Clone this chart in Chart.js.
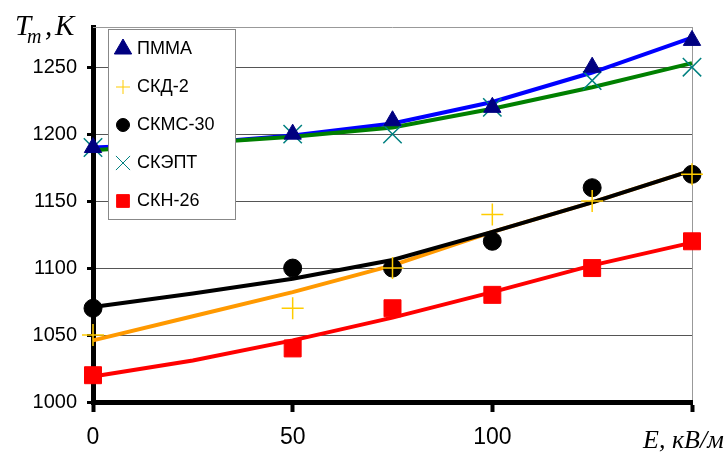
<!DOCTYPE html>
<html>
<head>
<meta charset="utf-8">
<script src="https://cdn.jsdelivr.net/npm/chart.js@4.4.1/dist/chart.umd.min.js"></script>
<style>
  html, body { margin: 0; padding: 0; background: #fff; }
  #wrap { width: 728px; height: 454px; position: relative; }
</style>
</head>
<body>
<div id="wrap"><canvas id="chart"></canvas></div>
<script>
// Measured points
const xValues = [0, 50, 75, 100, 125, 150];
const pmma = [1190, 1200, 1210, 1220, 1250, 1270];
const skd2 = [1050, 1070, 1100, 1140, 1150, 1170];
const skms30 = [1070, 1100, 1100, 1120, 1160, 1170];
const skept = [1190, 1200, 1200, 1220, 1240, 1250];
const skn26 = [1020, 1040, 1070, 1080, 1100, 1120];

// Fitted curves
const fitX = [0, 25, 50, 75, 100, 125, 150];
const pmmaFit = [1190, 1193, 1199, 1208, 1224, 1246, 1272];
const skeptFit = [1188, 1193, 1198, 1205, 1219, 1235, 1253];
const skms30Fit = [1071, 1081, 1092, 1106, 1127, 1149, 1173];
const skd2Fit = [1046, 1064, 1082, 1102, 1127, 1149, 1173];
const skn26Fit = [1019, 1031, 1046, 1063, 1082, 1102, 1119];

const yTicks = [1000, 1050, 1100, 1150, 1200, 1250];
const xTicks = [0, 50, 100, 150];
const seriesNames = ['ПММА', 'СКД-2', 'СКМС-30', 'СКЭПТ', 'СКН-26'];

const toXY = (xs, ys) => xs.map((x, i) => ({ x: x, y: ys[i] }));

function fitLine(data, color, order) {
    return {
        type: 'line',
        data: toXY(fitX, data),
        borderColor: color,
        borderWidth: 4,
        pointRadius: 0,
        fill: false,
        tension: 0,
        clip: false,
        order: order
    };
}

function markers(data, style, color, radius, bw) {
    return {
        type: 'scatter',
        data: toXY(xValues, data),
        pointStyle: style,
        pointRadius: radius,
        pointBackgroundColor: color,
        pointBorderColor: color,
        pointBorderWidth: bw,
        showLine: false,
        clip: false,
        order: 0
    };
}

// legend entries: style, color, radius, borderWidth
const legendMarks = [
    ['triangle', '#000080', 10, 1],
    ['cross', '#FFCC00', 7, 1.5],
    ['circle', '#000000', 6.5, 1],
    ['crossRot', '#008080', 10, 1.5],
    ['rect', '#FF0000', 9, 1]
];

const legendPlugin = {
    id: 'boxLegend',
    afterDatasetsDraw(chart) {
        const ctx = chart.ctx;
        ctx.save();
        ctx.fillStyle = '#fff';
        ctx.fillRect(108.5, 29.5, 127, 190);
        ctx.strokeStyle = '#888';
        ctx.lineWidth = 1;
        ctx.strokeRect(108.5, 29.5, 127, 190);
        ctx.font = '18px "Liberation Sans", Arial, sans-serif';
        ctx.textBaseline = 'middle';
        seriesNames.forEach((name, i) => {
            const y = 49 + i * 38;
            const m = legendMarks[i];
            ctx.fillStyle = m[1];
            ctx.strokeStyle = m[1];
            Chart.helpers.drawPoint(ctx, { pointStyle: m[0], radius: m[2], rotation: 0, borderWidth: m[3] }, 123, y);
            ctx.fillStyle = '#000';
            ctx.fillText(name, 137, y);
        });
        ctx.restore();
    },
    afterDraw(chart) {
        const ctx = chart.ctx;
        const area = chart.chartArea;
        ctx.save();
        // top border
        ctx.strokeStyle = '#999';
        ctx.lineWidth = 1;
        ctx.beginPath();
        ctx.moveTo(area.left, area.top + 0.5);
        ctx.lineTo(area.right, area.top + 0.5);
        ctx.stroke();
        // axis titles
        ctx.fillStyle = '#000';
        ctx.textBaseline = 'alphabetic';
        ctx.font = 'italic 29px "Liberation Serif", "Times New Roman", serif';
        ctx.fillText('T', 15, 35);
        ctx.fillText(',', 45, 35);
        ctx.fillText('K', 55, 35);
        ctx.font = 'italic 20px "Liberation Serif", "Times New Roman", serif';
        ctx.fillText('m', 27, 43);
        ctx.font = 'italic 26px "Liberation Serif", "Times New Roman", serif';
        ctx.fillText('E, кВ/м', 643, 448);
        ctx.restore();
    }
};

const ctx = document.getElementById('chart').getContext('2d');
new Chart(ctx, {
    data: {
        datasets: [
            markers(pmma, 'triangle', '#000080', 10, 1),
            markers(skd2, 'cross', '#FFCC00', 11, 1.5),
            markers(skms30, 'circle', '#000000', 9, 1),
            markers(skept, 'crossRot', '#008080', 13, 1.5),
            markers(skn26, 'rect', '#FF0000', 12, 1),
            fitLine(skeptFit, '#008000', 1),
            fitLine(pmmaFit, '#0000FF', 2),
            fitLine(skms30Fit, '#000000', 1),
            fitLine(skd2Fit, '#FF9900', 2),
            fitLine(skn26Fit, '#FF0000', 1)
        ]
    },
    options: {
        responsive: true,
        maintainAspectRatio: false,
        animation: false,
        layout: { padding: { left: 0, top: 27, right: 36, bottom: 0 } },
        plugins: {
            legend: { display: false },
            tooltip: { enabled: false }
        },
        scales: {
            x: {
                type: 'linear',
                min: 0,
                max: 150,
                afterBuildTicks: (s) => { s.ticks = xTicks.map(v => ({ value: v })); },
                afterFit: (s) => { s.height = 52; },
                border: { color: '#000', width: 5 },
                grid: {
                    color: (c) => c.tick && c.tick.value === 150 ? '#999' : 'rgba(0,0,0,0)',
                    tickColor: '#000',
                    tickWidth: 4,
                    tickLength: 10
                },
                ticks: {
                    color: '#000',
                    padding: 12,
                    maxRotation: 0,
                    font: { family: '"Liberation Sans", Arial, sans-serif', size: 23 },
                    callback: (v) => v === 150 ? '' : String(v)
                }
            },
            y: {
                type: 'linear',
                min: 1000,
                max: 1280,
                afterBuildTicks: (s) => { s.ticks = yTicks.map(v => ({ value: v })); },
                afterFit: (s) => { s.width = 93; },
                border: { color: '#000', width: 5 },
                grid: {
                    color: '#555',
                    lineWidth: 1,
                    tickColor: '#000',
                    tickWidth: 3,
                    tickLength: 6
                },
                ticks: {
                    color: '#000',
                    padding: 10,
                    font: { family: '"Liberation Sans", Arial, sans-serif', size: 20 },
                    callback: (v) => String(v)
                }
            }
        }
    },
    plugins: [legendPlugin]
});
</script>
</body>
</html>
